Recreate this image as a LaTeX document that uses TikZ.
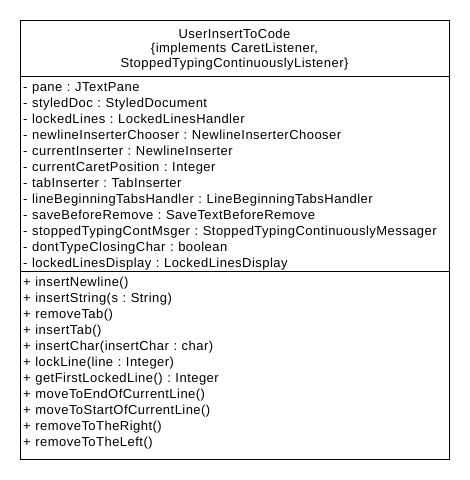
\documentclass[tikz,border=0pt]{standalone}
\usepackage{fontspec}
\setmainfont{Liberation Sans}[LetterSpace=3.6,WordSpace=1.12]
\begin{document}
\frenchspacing
\begin{tikzpicture}[x=1pt,y=1pt,
  umlline/.style={draw=black, line width=1pt},
  member/.style={anchor=base west, inner sep=0pt, font=\fontsize{13}{15}\selectfont},
  titleline/.style={anchor=base, inner sep=0pt, font=\fontsize{13}{15}\selectfont}]
\useasboundingbox (0,0) rectangle (470,-480);
\fill[white] (0,0) rectangle (470,-480);
\draw[umlline] (20,-20) rectangle (449,-459);
\coordinate (d1l) at (20,-76);
\coordinate (d1r) at (449,-76);
\coordinate (d2l) at (20,-271);
\coordinate (d2r) at (449,-271);
\draw[umlline] (d1l) -- (d1r);
\draw[umlline] (d2l) -- (d2r);
\node[titleline] (t1) at (234.5,-38) {UserInsertToCode};
\node[titleline] (t2) at (234.5,-52.5) {\{implements CaretListener,};
\node[titleline] (t3) at (234.5,-67) {StoppedTypingContinuouslyListener\}};
\foreach \i/\txt in {0/{- pane : JTextPane},
  1/{- styledDoc : StyledDocument},
  2/{- lockedLines : LockedLinesHandler},
  3/{- newlineInserterChooser : NewlineInserterChooser},
  4/{- currentInserter : NewlineInserter},
  5/{- currentCaretPosition : Integer},
  6/{- tabInserter : TabInserter},
  7/{- lineBeginningTabsHandler : LineBeginningTabsHandler},
  8/{- saveBeforeRemove : SaveTextBeforeRemove},
  9/{- stoppedTypingContMsger : StoppedTypingContinuouslyMessager},
  10/{- dontTypeClosingChar : boolean},
  11/{- lockedLinesDisplay : LockedLinesDisplay}}
  \node[member] (a\i) at (23,{-91.5-16*\i}) {\txt};
\foreach \i/\txt in {0/{+ insertNewline()},
  1/{+ insertString(s : String)},
  2/{+ removeTab()},
  3/{+ insertTab()},
  4/{+ insertChar(insertChar : char)},
  5/{+ lockLine(line : Integer)},
  6/{+ getFirstLockedLine() : Integer},
  7/{+ moveToEndOfCurrentLine()},
  8/{+ moveToStartOfCurrentLine()},
  9/{+ removeToTheRight()},
  10/{+ removeToTheLeft()}}
  \node[member] (m\i) at (23,{-286.5-16*\i}) {\txt};
\end{tikzpicture}
\end{document}
